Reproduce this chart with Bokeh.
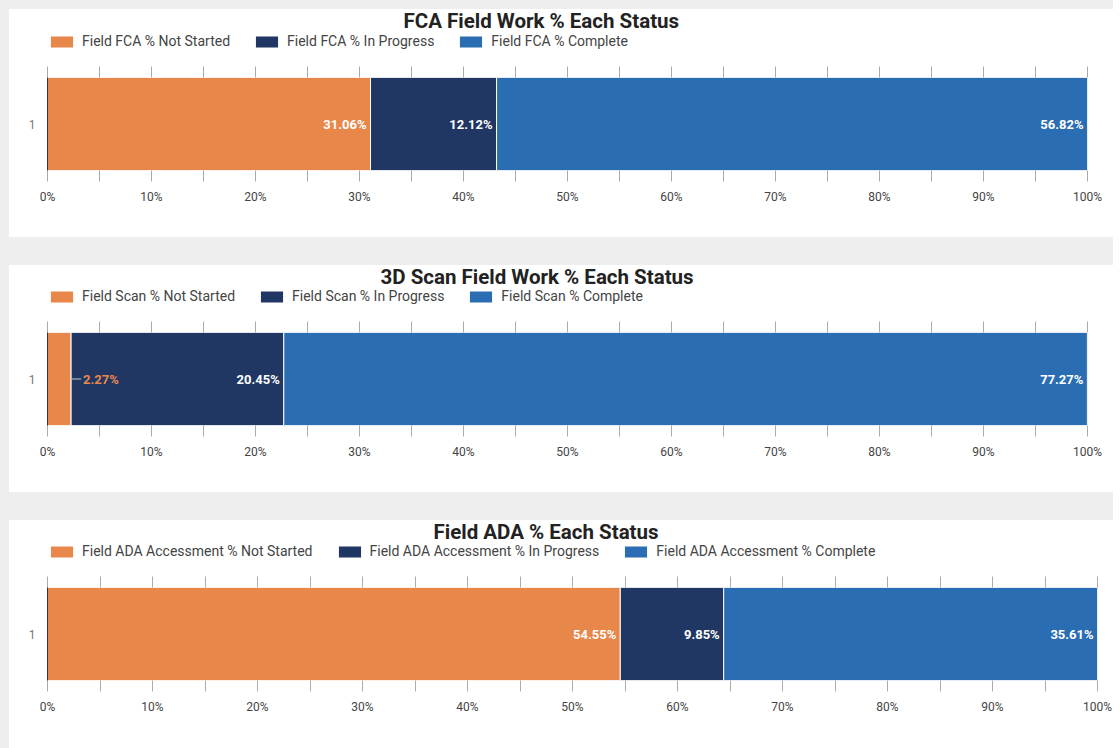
import numpy as np
from bokeh.plotting import figure
from bokeh.models import (ColumnDataSource, FactorRange, Range1d, LinearAxis, FixedTicker,
                          Legend, LegendItem, Label, Spacer)
from bokeh.layouts import column, row
from bokeh.embed import file_html
from bokeh.resources import INLINE
from bokeh.core.properties import value

# ---------------- data ----------------
categories = ["1"]

fca_title = "FCA Field Work % Each Status"
fca_labels = ["Field FCA % Not Started", "Field FCA % In Progress", "Field FCA % Complete"]
fca_values = [31.06, 12.12, 56.82]

scan_title = "3D Scan Field Work % Each Status"
scan_labels = ["Field Scan % Not Started", "Field Scan % In Progress", "Field Scan % Complete"]
scan_values = [2.27, 20.45, 77.27]

ada_title = "Field ADA % Each Status"
ada_labels = ["Field ADA Accessment % Not Started", "Field ADA Accessment % In Progress",
              "Field ADA Accessment % Complete"]
ada_values = [54.55, 9.85, 35.61]

major_ticks = [0, 10, 20, 30, 40, 50, 60, 70, 80, 90, 100]
minor_ticks = [5, 15, 25, 35, 45, 55, 65, 75, 85, 95]
tick_labels = ["0%", "10%", "20%", "30%", "40%", "50%", "60%", "70%", "80%", "90%", "100%"]

colors = ["#E8874A", "#213763", "#2A6DB3"]
FONT = "Roboto"
PANEL_W = 1104
NAN = float("nan")


def style_ticks(ax):
    ax.axis_line_color = None
    ax.major_tick_line_color = "#aaaaaa"
    ax.minor_tick_line_color = "#aaaaaa"
    ax.major_tick_in = 0
    ax.major_tick_out = 11
    ax.minor_tick_in = 0
    ax.minor_tick_out = 11


def make_header(title, labels, height, title_x, legend_y):
    h = figure(width=PANEL_W, height=height, x_range=Range1d(0, PANEL_W),
               y_range=Range1d(0, height), x_axis_type=None, y_axis_type=None,
               min_border=0, toolbar_location=None, output_backend="svg")
    h.outline_line_color = None
    h.grid.visible = False
    h.background_fill_color = "white"
    h.border_fill_color = "white"
    # legend swatches (placeholders that draw nothing in the frame)
    rs = [h.hbar(y=[NAN], right=[NAN], height=1, color=c, line_color="white") for c in colors]
    items = [LegendItem(label=l, renderers=[r]) for l, r in zip(labels, rs)]
    leg = Legend(items=items, orientation="horizontal", location=(0, legend_y),
                 glyph_width=29, glyph_height=15, label_height=15, label_standoff=6,
                 spacing=22, padding=0, margin=0, border_line_color=None,
                 background_fill_alpha=0, label_text_font=FONT,
                 label_text_font_size="14px", label_text_color="#444444")
    h.add_layout(leg)
    h.add_layout(Label(x=title_x, y=height - 11, x_units="screen", y_units="screen",
                       text=title, text_align="left", text_baseline="middle",
                       text_font=FONT, text_font_style="bold", text_font_size="20.5px",
                       text_color="#222222"))
    return h


def make_chart(values, frame_w, height, top, bottom):
    right = PANEL_W - 38 - frame_w
    p = figure(y_range=FactorRange(*categories), x_range=Range1d(0, 100),
               width=PANEL_W, height=height,
               min_border_left=38, min_border_right=right,
               min_border_top=top, min_border_bottom=bottom,
               toolbar_location=None, output_backend="svg")
    p.outline_line_color = None
    p.xgrid.visible = False
    p.ygrid.visible = False
    p.background_fill_color = "white"
    p.border_fill_color = "white"

    keys = ["s0", "s1", "s2"]
    data = {"cat": categories}
    for k, v in zip(keys, values):
        data[k] = [v]
    src = ColumnDataSource(data)
    p.hbar_stack(keys, y="cat", height=1.0, color=colors, line_color="white",
                 line_width=1, source=src)

    # value labels
    ends = list(np.cumsum(values))
    texts = [f"{v:.2f}%" for v in values]
    inside = [i for i, v in enumerate(values) if v >= 5]
    outside = [i for i, v in enumerate(values) if v < 5]
    if inside:
        p.text(x=[ends[i] for i in inside], y=[categories[0]] * len(inside),
               text=[texts[i] for i in inside], text_color="white", text_align="right",
               text_baseline="middle", x_offset=-4, text_font=value(FONT),
               text_font_style="bold", text_font_size="13px")
    if outside:
        p.ray(x=[ends[i] for i in outside], y=[categories[0]] * len(outside), length=10,
              length_units="screen", angle=0, line_color="#c8c8c8", line_width=1)
        p.text(x=[ends[i] for i in outside], y=[categories[0]] * len(outside),
               text=[texts[i] for i in outside], text_color=[colors[i] for i in outside],
               text_align="left", text_baseline="middle", x_offset=12,
               text_font=value(FONT), text_font_style="bold", text_font_size="13px")

    # bottom axis
    xb = p.xaxis[0]
    xb.ticker = FixedTicker(ticks=major_ticks, minor_ticks=minor_ticks)
    xb.major_label_overrides = {t: l for t, l in zip(major_ticks, tick_labels)}
    style_ticks(xb)
    xb.major_label_standoff = 8
    xb.major_label_text_font = FONT
    xb.major_label_text_font_size = "12px"
    xb.major_label_text_color = "#444444"

    # top axis (ticks only)
    xt = LinearAxis(ticker=FixedTicker(ticks=major_ticks, minor_ticks=minor_ticks))
    xt.major_label_overrides = {t: "" for t in major_ticks}
    style_ticks(xt)
    xt.major_label_standoff = 0
    xt.major_label_text_font_size = "0px"
    p.add_layout(xt, "above")

    # left axis
    ya = p.yaxis[0]
    ya.axis_line_color = "#333333"
    ya.major_tick_line_color = None
    ya.minor_tick_line_color = None
    ya.major_tick_out = 0
    ya.major_tick_in = 0
    ya.major_label_standoff = 12
    ya.major_label_text_font = FONT
    ya.major_label_text_font_size = "12px"
    ya.major_label_text_color = "#777777"
    return p


WHITE = {"background-color": "white"}
panel1 = column(make_header(fca_title, fca_labels, 56, 356, 16),
                make_chart(fca_values, 1040, 172, 12, 67), spacing=0, styles=WHITE)
panel2 = column(make_header(scan_title, scan_labels, 56, 333, 17),
                make_chart(scan_values, 1040, 171, 11, 67), spacing=0, styles=WHITE)
panel3 = column(make_header(ada_title, ada_labels, 56, 386, 17),
                make_chart(ada_values, 1050, 172, 11, 68), spacing=0, styles=WHITE)

charts = column(panel1, panel2, panel3, spacing=28)
layout = column(Spacer(height=9), row(Spacer(width=9), charts, spacing=0), spacing=0,
                styles={"background-color": "#eeeeee"})

open("out.html", "w").write(file_html(layout, INLINE))
